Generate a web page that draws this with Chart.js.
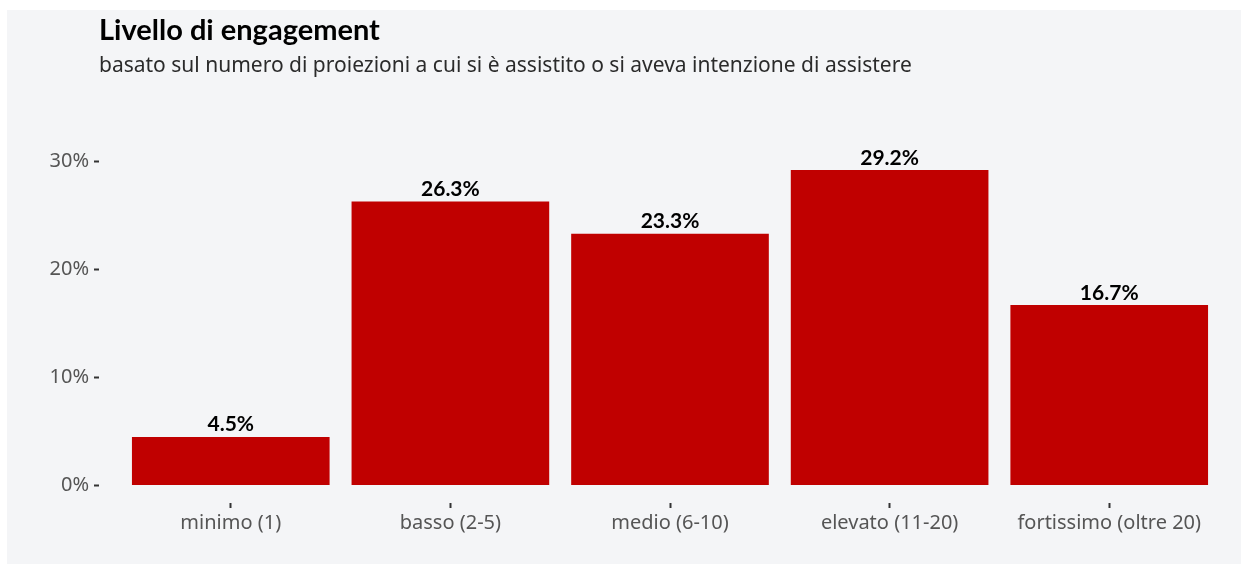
<!DOCTYPE html>
<html>
<head>
<meta charset="utf-8">
<script src="https://cdn.jsdelivr.net/npm/chart.js@4.4.1/dist/chart.umd.min.js"></script>
<style>
  html, body { margin: 0; padding: 0; background: #ffffff; }
  #wrap { width: 1241px; height: 565px; }
</style>
</head>
<body>
<div id="wrap"><canvas id="c" width="1241" height="565"></canvas></div>
<script>
// Engagement level categories and share of respondents (%)
const categories = ['minimo (1)', 'basso (2-5)', 'medio (6-10)', 'elevato (11-20)', 'fortissimo (oltre 20)'];
const shares = [4.5, 26.3, 23.3, 29.2, 16.7];
const yTicks = [0, 10, 20, 30];

const titleText = 'Livello di engagement';
const subtitleText = 'basato sul numero di proiezioni a cui si è assistito o si aveva intenzione di assistere';

const BAR_COLOR = '#c00000';
const PANEL_BG = '#f4f5f7';
const AXIS_TEXT = '#555555';

// Light panel behind everything plus the heading block
const panelPlugin = {
  id: 'panel',
  beforeDraw(chart) {
    const ctx = chart.ctx;
    ctx.save();
    ctx.fillStyle = '#ffffff';
    ctx.fillRect(0, 0, chart.width, chart.height);
    ctx.fillStyle = PANEL_BG;
    ctx.fillRect(7, 10, chart.width - 7, chart.height - 11);
    ctx.restore();
  },
  afterDraw(chart) {
    const ctx = chart.ctx;
    const left = chart.chartArea.left;
    ctx.save();
    ctx.textAlign = 'left';
    ctx.textBaseline = 'alphabetic';
    ctx.fillStyle = '#000000';
    ctx.font = 'bold 29px Lato';
    ctx.fillText(titleText, left, 40);
    ctx.fillStyle = '#2b2b2b';
    ctx.font = '21px "Noto Sans"';
    ctx.fillText(subtitleText, left, 72);
    ctx.restore();
  }
};

// Percentage labels above each bar
const valueLabels = {
  id: 'valueLabels',
  afterDatasetsDraw(chart) {
    const ctx = chart.ctx;
    const meta = chart.getDatasetMeta(0);
    ctx.save();
    ctx.font = 'bold 21px Lato';
    ctx.fillStyle = '#000000';
    ctx.textAlign = 'center';
    ctx.textBaseline = 'alphabetic';
    meta.data.forEach((bar, i) => {
      ctx.fillText(shares[i].toFixed(1) + '%', bar.x, bar.y - 5.5);
    });
    ctx.restore();
  }
};

new Chart(document.getElementById('c'), {
  type: 'bar',
  data: {
    datasets: [{
      data: shares.map((v, i) => ({ x: i + 1, y: v })),
      backgroundColor: BAR_COLOR,
      borderWidth: 0,
      barPercentage: 0.9,
      categoryPercentage: 1.0
    }]
  },
  options: {
    responsive: false,
    animation: false,
    layout: { padding: { top: 154, left: 0, right: 0, bottom: 0 } },
    plugins: {
      legend: { display: false },
      tooltip: { enabled: false },
      title: { display: false }
    },
    scales: {
      x: {
        type: 'linear',
        offset: false,
        min: 0.4,
        max: 5.6,
        afterBuildTicks(scale) {
          scale.ticks = categories.map((_, i) => ({ value: i + 1 }));
        },
        afterFit(scale) { scale.height = 62; },
        ticks: {
          callback: (v) => categories[Math.round(v) - 1],
          color: AXIS_TEXT,
          font: { family: '"Noto Sans"', size: 20 },
          padding: 3,
          maxRotation: 0,
          autoSkip: false
        },
        grid: {
          offset: false,
          drawOnChartArea: false,
          drawTicks: true,
          tickLength: 5,
          tickWidth: 2,
          tickColor: '#333333'
        },
        border: { display: false }
      },
      y: {
        min: -1.62,
        max: 30.69,
        afterBuildTicks(scale) {
          scale.ticks = yTicks.map(v => ({ value: v }));
        },
        afterFit(scale) { scale.width = 99; },
        ticks: {
          callback: (v) => v + '%',
          color: AXIS_TEXT,
          font: { family: '"Noto Sans"', size: 20 },
          padding: 5
        },
        grid: {
          drawOnChartArea: false,
          drawTicks: true,
          tickLength: 5,
          tickWidth: 2,
          tickColor: '#333333'
        },
        border: { display: false }
      }
    }
  },
  plugins: [panelPlugin, valueLabels]
});
</script>
</body>
</html>
